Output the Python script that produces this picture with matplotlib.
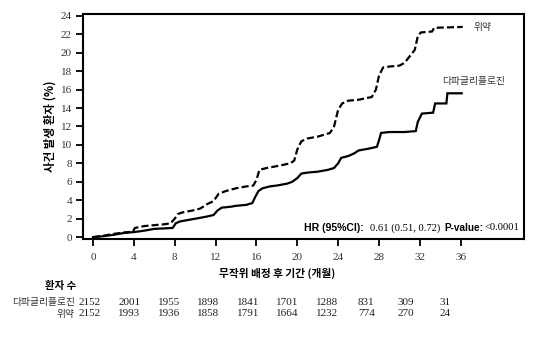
import matplotlib.pyplot as plt
import matplotlib.transforms as mtrans
import numpy as np

plt.rcParams['font.family'] = ['Noto Sans CJK KR', 'DejaVu Sans']

# Cumulative incidence (%) by month since randomisation (path vertices)
placebo_months = [0, 1, 2, 3, 3.9, 4.1, 5, 6, 7, 7.6, 8.0, 8.3, 8.8, 9.8, 10.5, 11.2,
                  11.8, 12.3, 13, 14, 15, 15.7, 16.0, 16.3, 17, 18, 19.3, 19.7, 20.0,
                  20.4, 21, 22, 23.2, 23.6, 24.0, 24.4, 25, 26, 27.3, 27.7, 28.0, 28.4,
                  29, 30, 30.5, 31.0, 31.5, 31.8, 32.1, 33.2, 33.4, 36.2]
placebo_pct = [0, 0.15, 0.35, 0.5, 0.6, 1.0, 1.2, 1.3, 1.4, 1.5, 2.0, 2.5, 2.7, 2.9,
               3.1, 3.6, 3.9, 4.7, 5.0, 5.3, 5.5, 5.6, 6.2, 7.3, 7.5, 7.7, 8.0, 8.3,
               9.5, 10.4, 10.7, 10.9, 11.3, 12.0, 13.8, 14.5, 14.8, 14.9, 15.2, 16.0,
               17.5, 18.4, 18.5, 18.6, 18.9, 19.6, 20.3, 21.8, 22.2, 22.3, 22.7, 22.8]

dapa_months = [0, 1, 2, 3, 4, 5, 6, 7, 7.8, 8.1, 8.5, 9, 10, 11, 11.8, 12.2, 12.6,
               13.5, 14, 15, 15.6, 15.9, 16.2, 16.6, 17.3, 18, 19, 19.5, 20, 20.4, 21,
               22, 23, 23.6, 24, 24.3, 25, 25.6, 26, 27, 27.8, 28.0, 28.2, 29, 30.5,
               31.6, 31.8, 32.2, 33.3, 33.5, 34.6, 34.7, 36.1]
dapa_pct = [0, 0.1, 0.25, 0.45, 0.55, 0.7, 0.9, 0.95, 1.0, 1.5, 1.7, 1.8, 2.0, 2.2,
            2.4, 2.9, 3.2, 3.3, 3.4, 3.5, 3.7, 4.4, 5.0, 5.3, 5.5, 5.6, 5.8, 6.0,
            6.4, 6.9, 7.0, 7.1, 7.3, 7.5, 8.0, 8.6, 8.8, 9.1, 9.4, 9.6, 9.8, 10.5,
            11.3, 11.4, 11.4, 11.5, 12.5, 13.4, 13.5, 14.5, 14.5, 15.6, 15.6]

# Number at risk
risk_months = [0, 4, 8, 12, 16, 20, 24, 28, 32, 36]
risk_dapa = [2152, 2001, 1955, 1898, 1841, 1701, 1288, 831, 309, 31]
risk_placebo = [2152, 1993, 1936, 1858, 1791, 1664, 1232, 774, 270, 24]

serif = 'Liberation Serif'
sans = 'Liberation Sans'

fig = plt.figure(figsize=(5.41, 3.38), dpi=100)
ax = fig.add_axes([0.1534, 0.2929, 0.8152, 0.6657])

ax.plot(placebo_months, placebo_pct, color='black', linewidth=1.6,
        dashes=(3.2, 1.4), solid_joinstyle='miter')
ax.plot(dapa_months, dapa_pct, color='black', linewidth=1.6, solid_joinstyle='miter')

ax.set_xlim(-0.98, 42.2)
ax.set_ylim(-0.2, 24.2)
ax.set_xticks(np.arange(0, 37, 4))
ax.set_yticks(np.arange(0, 25, 2))
ax.tick_params(direction='out', length=5, width=1.3, pad=3)
for lab in ax.get_xticklabels() + ax.get_yticklabels():
    lab.set_fontfamily(serif)
    lab.set_fontsize(8)
    lab.set_color('#333333')
ax.tick_params(axis='x', pad=5)
for sp in ax.spines.values():
    sp.set_linewidth(1.5)

ax.set_ylabel('사건 발생 환자 (%)', fontsize=8.3, fontweight='bold', labelpad=3)
ax.set_xlabel('무작위 배정 후 기간 (개월)', fontsize=7.7, fontweight='bold')
ax.xaxis.set_label_coords(0.44, -0.13)

# Curve labels
ax.text(37.3, 22.75, '위약', fontsize=7, va='center', color='#333333')
ax.text(34.2, 16.9, '다파글리플로진', fontsize=7, va='center', color='#333333')

# Hazard ratio and p-value
ax.text(20.7, 1.0, 'HR (95%CI):', family=sans, fontweight='bold', fontsize=7.6, va='center')
ax.text(27.1, 1.0, '0.61 (0.51, 0.72)', family=serif, fontsize=7.6, va='center')
ax.text(34.4, 1.0, 'P-value:', family=sans, fontweight='bold', fontsize=7.2, va='center')
ax.text(38.3, 1.0, '<0.0001', family=serif, fontsize=7.6, va='center')

# Number-at-risk table below the axis
fig.text(0.083, 1 - 285.5 / 338, '환자 수', fontsize=7.5, fontweight='bold', va='center')
row_y = [1 - 302.5 / 338, 1 - 314 / 338]
fig.text(75 / 541, row_y[0], '다파글리플로진', fontsize=7, ha='right', va='center', color='#333333')
fig.text(75 / 541, row_y[1], '위약', fontsize=7, ha='right', va='center', color='#333333')
btrans = mtrans.blended_transform_factory(ax.transData, fig.transFigure)
for i, m in enumerate(risk_months):
    xpos = m - 0.3 - 0.034 * m
    fig.text(xpos, row_y[0], str(risk_dapa[i]), transform=btrans, family=serif,
             fontsize=8, ha='center', va='center', color='#222222')
    fig.text(xpos, row_y[1], str(risk_placebo[i]), transform=btrans, family=serif,
             fontsize=8, ha='center', va='center', color='#222222')

fig.savefig('out.png', dpi=100)
